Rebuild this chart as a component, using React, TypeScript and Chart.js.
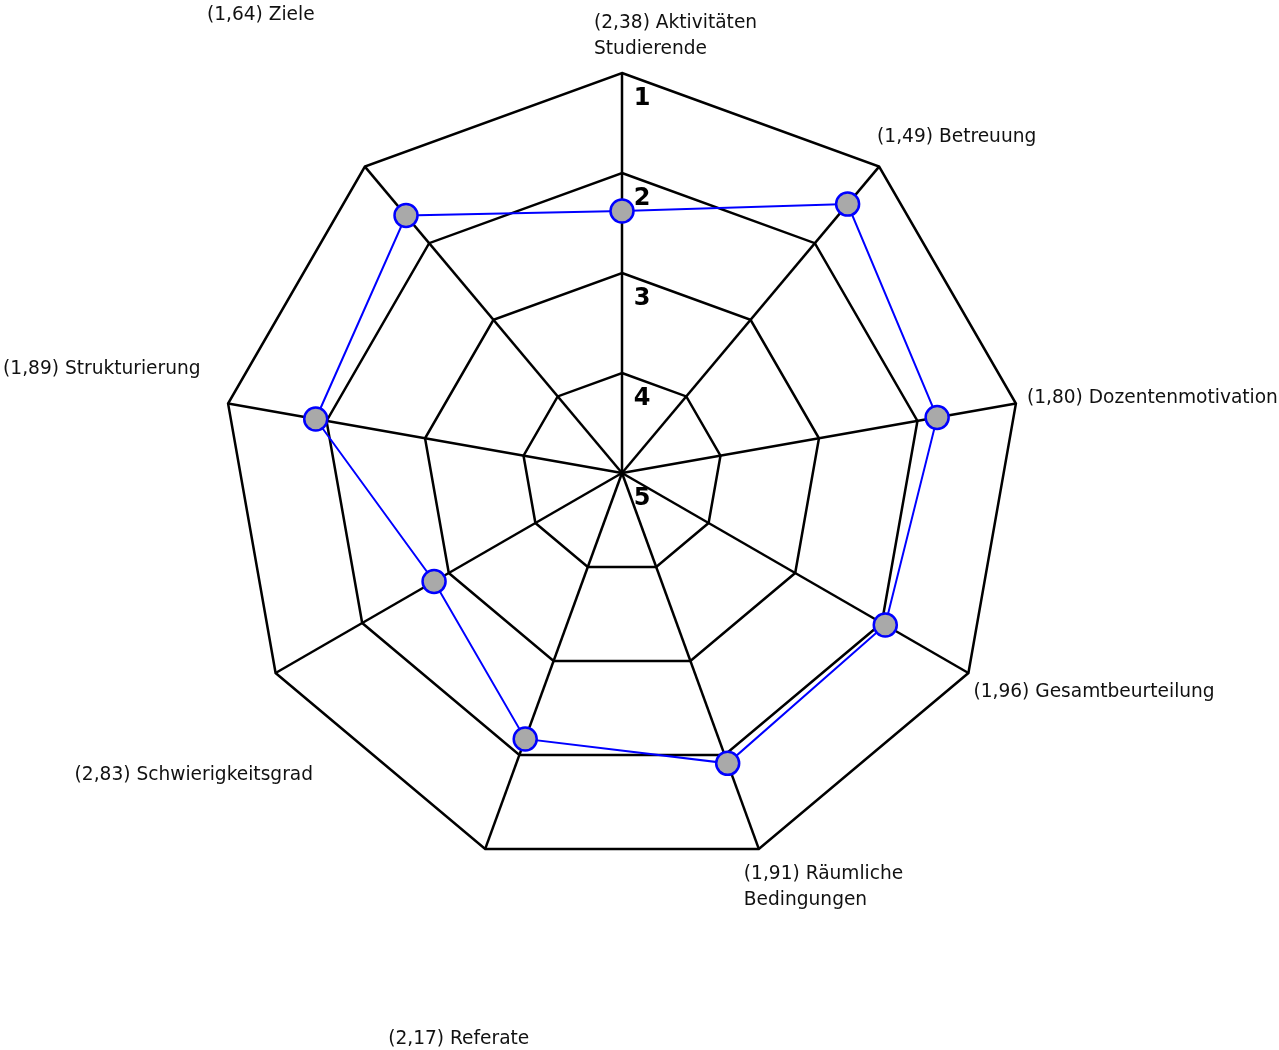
import React, { useEffect, useRef } from "react";
import { Chart, registerables } from "chart.js";

Chart.register(...registerables);

const categories = [
  "Aktivitäten\nStudierende",
  "Betreuung",
  "Dozentenmotivation",
  "Gesamtbeurteilung",
  "Räumliche\nBedingungen",
  "Referate",
  "Schwierigkeitsgrad",
  "Strukturierung",
  "Ziele",
];
const values = [2.38, 1.49, 1.8, 1.96, 1.91, 2.17, 2.83, 1.89, 1.64];
const tickValues = [1, 2, 3, 4, 5];

// layout: label offsets (px) from the outer vertex of each axis
const labelOffsets: [number, number][] = [
  [-28, -50],
  [-2, -29],
  [11, -5],
  [5, 19],
  [-15, 25],
  [-97, 190],
  [-201, 102],
  [-225, -34],
  [-158, -151],
];

const FONT = '"DejaVu Sans", sans-serif';

const labelPlugin = {
  id: "customLabels",
  afterDraw(chart: any) {
    const scale = chart.scales.r;
    const ctx = chart.ctx;
    ctx.save();
    ctx.fillStyle = "#000";
    ctx.font = `bold 24px ${FONT}`;
    ctx.textAlign = "center";
    ctx.textBaseline = "middle";
    tickValues.forEach((v) => {
      const d = scale.getDistanceFromCenterForValue(v);
      ctx.fillText(String(v), scale.xCenter + 20, scale.yCenter - d + 26);
    });
    ctx.font = `18.6px ${FONT}`;
    ctx.textAlign = "left";
    ctx.fillStyle = "#111";
    const outer = scale.getDistanceFromCenterForValue(1);
    categories.forEach((c, i) => {
      const p = scale.getPointPosition(i, outer);
      const [dx, dy] = labelOffsets[i];
      const lines = c.split("\n");
      lines[0] = `(${values[i].toFixed(2).replace(".", ",")}) ${lines[0]}`;
      lines.forEach((ln, k) => {
        ctx.fillText(ln, p.x + dx, p.y + dy + k * 26);
      });
    });
    ctx.restore();
  },
};

export default function App() {
  const ref = useRef<HTMLCanvasElement>(null);
  useEffect(() => {
    if (!ref.current) return;
    const chart = new Chart(ref.current, {
      type: "radar",
      data: {
        labels: categories.map((c) => c.replace("\n", " ")),
        datasets: [
          {
            data: values,
            borderColor: "#0000ff",
            borderWidth: 2,
            backgroundColor: "rgba(0,0,0,0)",
            fill: false,
            pointRadius: 11.5,
            pointBorderWidth: 2.5,
            pointBackgroundColor: "#a9a9a9",
            pointBorderColor: "#0000ff",
            tension: 0,
          },
        ],
      },
      options: {
        responsive: false,
        animation: false,
        layout: { padding: { left: 222, right: 257, top: 73, bottom: 177 } },
        plugins: { legend: { display: false }, tooltip: { enabled: false } },
        scales: {
          r: {
            min: 1,
            max: 5,
            reverse: true,
            ticks: { display: false, stepSize: 1 },
            pointLabels: { display: false },
            grid: { color: "#000", lineWidth: 2.5, circular: false },
            angleLines: { color: "#000", lineWidth: 2.5 },
          },
        },
      },
      plugins: [labelPlugin],
    });
    return () => chart.destroy();
  }, []);
  return (
    <canvas
      ref={ref}
      width={1279}
      height={1050}
      style={{ display: "block", position: "absolute", left: 0, top: 0 }}
    />
  );
}
